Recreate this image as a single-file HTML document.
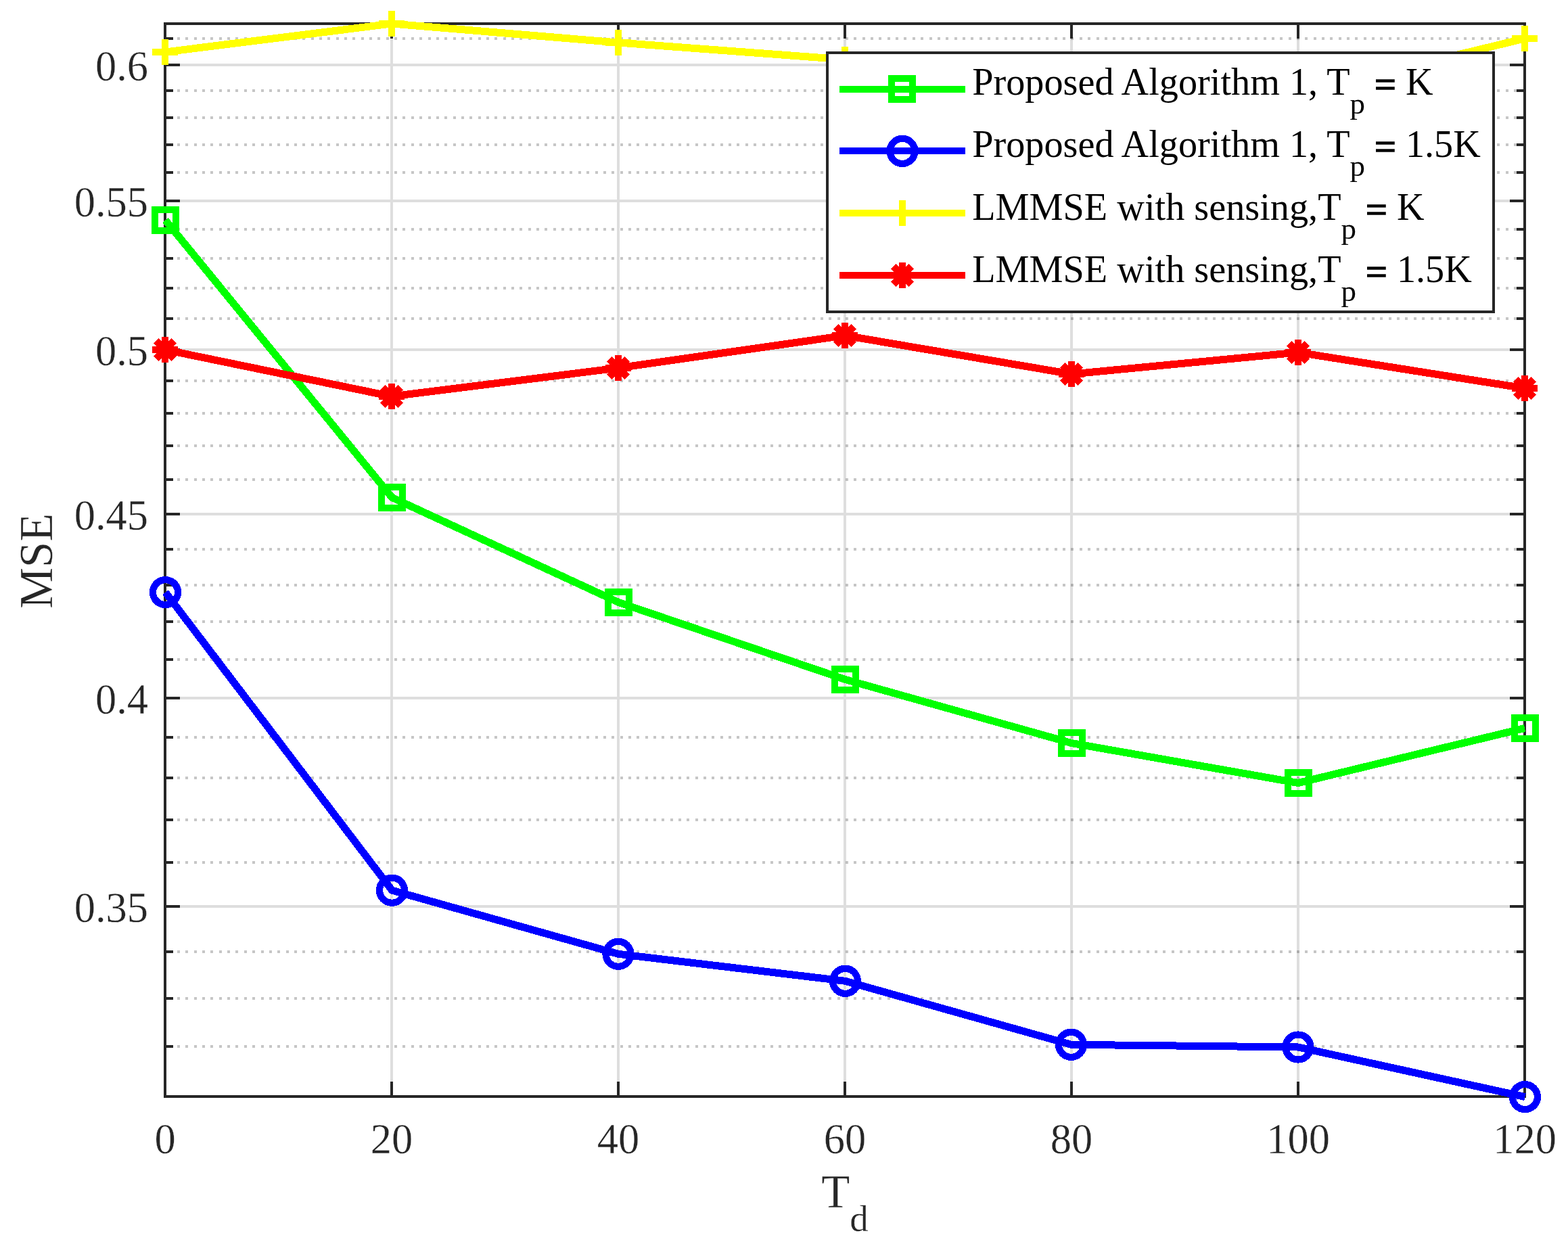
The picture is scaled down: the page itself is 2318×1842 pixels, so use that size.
<!DOCTYPE html>
<html lang="en"><head><meta charset="utf-8"><title>MSE versus T_d</title>
<style>html,body{margin:0;padding:0;background:#fff}body{width:2318px;height:1842px;overflow:hidden}svg{display:block}text{font-family:"Liberation Serif","Times New Roman",Times,serif}</style></head><body>
<svg width="2318" height="1842" viewBox="0 0 2318 1842">
<rect width="2318" height="1842" fill="#fff"/>
<g shape-rendering="crispEdges">
<g fill="#dedede">
<rect x="266" y="1338" width="1966" height="4"/>
<rect x="266" y="1030" width="1966" height="4"/>
<rect x="266" y="758" width="1966" height="4"/>
<rect x="266" y="515" width="1966" height="4"/>
<rect x="266" y="295" width="1966" height="4"/>
<rect x="266" y="94" width="1966" height="4"/>
<rect x="577" y="57" width="4" height="1542"/>
<rect x="912" y="57" width="4" height="1542"/>
<rect x="1247" y="57" width="4" height="1542"/>
<rect x="1582" y="57" width="4" height="1542"/>
<rect x="1917" y="57" width="4" height="1542"/>
</g>
<g stroke="#1b1b1b" stroke-opacity="0.25" stroke-width="4" stroke-dasharray="4 8.35" fill="none">
<path d="M262 1547 H2242"/>
<path d="M262 1476 H2242"/>
<path d="M262 1407 H2242"/>
<path d="M262 1275 H2242"/>
<path d="M262 1212 H2242"/>
<path d="M262 1150 H2242"/>
<path d="M262 1090 H2242"/>
<path d="M262 975 H2242"/>
<path d="M262 919 H2242"/>
<path d="M262 865 H2242"/>
<path d="M262 812 H2242"/>
<path d="M262 709 H2242"/>
<path d="M262 659 H2242"/>
<path d="M262 611 H2242"/>
<path d="M262 563 H2242"/>
<path d="M262 471 H2242"/>
<path d="M262 426 H2242"/>
<path d="M262 382 H2242"/>
<path d="M262 339 H2242"/>
<path d="M262 255 H2242"/>
<path d="M262 214 H2242"/>
<path d="M262 174 H2242"/>
<path d="M262 134 H2242"/>
<path d="M262 57 H2242"/>
</g>
<g fill="#262626">
<rect x="242" y="33" width="2014" height="4"/>
<rect x="242" y="1619" width="2014" height="4"/>
<rect x="242" y="33" width="4" height="1590"/>
<rect x="2252" y="33" width="4" height="1590"/>
<rect x="577" y="37" width="4" height="20"/>
<rect x="577" y="1599" width="4" height="20"/>
<rect x="912" y="37" width="4" height="20"/>
<rect x="912" y="1599" width="4" height="20"/>
<rect x="1247" y="37" width="4" height="20"/>
<rect x="1247" y="1599" width="4" height="20"/>
<rect x="1582" y="37" width="4" height="20"/>
<rect x="1582" y="1599" width="4" height="20"/>
<rect x="1917" y="37" width="4" height="20"/>
<rect x="1917" y="1599" width="4" height="20"/>
<rect x="246" y="1338" width="20" height="4"/>
<rect x="2232" y="1338" width="20" height="4"/>
<rect x="246" y="1030" width="20" height="4"/>
<rect x="2232" y="1030" width="20" height="4"/>
<rect x="246" y="758" width="20" height="4"/>
<rect x="2232" y="758" width="20" height="4"/>
<rect x="246" y="515" width="20" height="4"/>
<rect x="2232" y="515" width="20" height="4"/>
<rect x="246" y="295" width="20" height="4"/>
<rect x="2232" y="295" width="20" height="4"/>
<rect x="246" y="94" width="20" height="4"/>
<rect x="2232" y="94" width="20" height="4"/>
<rect x="246" y="1545" width="10" height="4"/>
<rect x="2242" y="1545" width="10" height="4"/>
<rect x="246" y="1474" width="10" height="4"/>
<rect x="2242" y="1474" width="10" height="4"/>
<rect x="246" y="1405" width="10" height="4"/>
<rect x="2242" y="1405" width="10" height="4"/>
<rect x="246" y="1273" width="10" height="4"/>
<rect x="2242" y="1273" width="10" height="4"/>
<rect x="246" y="1210" width="10" height="4"/>
<rect x="2242" y="1210" width="10" height="4"/>
<rect x="246" y="1148" width="10" height="4"/>
<rect x="2242" y="1148" width="10" height="4"/>
<rect x="246" y="1088" width="10" height="4"/>
<rect x="2242" y="1088" width="10" height="4"/>
<rect x="246" y="973" width="10" height="4"/>
<rect x="2242" y="973" width="10" height="4"/>
<rect x="246" y="917" width="10" height="4"/>
<rect x="2242" y="917" width="10" height="4"/>
<rect x="246" y="863" width="10" height="4"/>
<rect x="2242" y="863" width="10" height="4"/>
<rect x="246" y="810" width="10" height="4"/>
<rect x="2242" y="810" width="10" height="4"/>
<rect x="246" y="707" width="10" height="4"/>
<rect x="2242" y="707" width="10" height="4"/>
<rect x="246" y="657" width="10" height="4"/>
<rect x="2242" y="657" width="10" height="4"/>
<rect x="246" y="609" width="10" height="4"/>
<rect x="2242" y="609" width="10" height="4"/>
<rect x="246" y="561" width="10" height="4"/>
<rect x="2242" y="561" width="10" height="4"/>
<rect x="246" y="469" width="10" height="4"/>
<rect x="2242" y="469" width="10" height="4"/>
<rect x="246" y="424" width="10" height="4"/>
<rect x="2242" y="424" width="10" height="4"/>
<rect x="246" y="380" width="10" height="4"/>
<rect x="2242" y="380" width="10" height="4"/>
<rect x="246" y="337" width="10" height="4"/>
<rect x="2242" y="337" width="10" height="4"/>
<rect x="246" y="253" width="10" height="4"/>
<rect x="2242" y="253" width="10" height="4"/>
<rect x="246" y="212" width="10" height="4"/>
<rect x="2242" y="212" width="10" height="4"/>
<rect x="246" y="172" width="10" height="4"/>
<rect x="2242" y="172" width="10" height="4"/>
<rect x="246" y="132" width="10" height="4"/>
<rect x="2242" y="132" width="10" height="4"/>
<rect x="246" y="55" width="10" height="4"/>
<rect x="2242" y="55" width="10" height="4"/>
</g>
<path d="M244.5 325.5 L579.5 735.5 L914.5 890.5 L1249.5 1004.5 L1584.0 1098.5 L1919.0 1157.5 L2254.0 1076.5" fill="none" stroke="#00ff00" stroke-width="11" stroke-linejoin="round" stroke-linecap="butt"/>
<path fill="#00ff00" fill-rule="evenodd" d="M224 305h41v41h-41z M234 315h21v21h-21z"/>
<path fill="#00ff00" fill-rule="evenodd" d="M559 715h41v41h-41z M569 725h21v21h-21z"/>
<path fill="#00ff00" fill-rule="evenodd" d="M894 870h41v41h-41z M904 880h21v21h-21z"/>
<path fill="#00ff00" fill-rule="evenodd" d="M1229 984h41v41h-41z M1239 994h21v21h-21z"/>
<path fill="#00ff00" fill-rule="evenodd" d="M1564 1078h41v41h-41z M1574 1088h21v21h-21z"/>
<path fill="#00ff00" fill-rule="evenodd" d="M1899 1137h41v41h-41z M1909 1147h21v21h-21z"/>
<path fill="#00ff00" fill-rule="evenodd" d="M2234 1056h41v41h-41z M2244 1066h21v21h-21z"/>
<path d="M244.5 875.6 L579.5 1316.2 L914.0 1410.3 L1249.5 1450.3 L1583.5 1544.3 L1919.0 1548.0 L2254.4 1621.6" fill="none" stroke="#0000ff" stroke-width="11" stroke-linejoin="round" stroke-linecap="butt"/>
<circle cx="244.5" cy="875.6" r="18.5" fill="none" stroke="#0000ff" stroke-width="10.2"/>
<circle cx="579.5" cy="1316.2" r="18.5" fill="none" stroke="#0000ff" stroke-width="10.2"/>
<circle cx="914.0" cy="1410.3" r="18.5" fill="none" stroke="#0000ff" stroke-width="10.2"/>
<circle cx="1249.5" cy="1450.3" r="18.5" fill="none" stroke="#0000ff" stroke-width="10.2"/>
<circle cx="1583.5" cy="1544.3" r="18.5" fill="none" stroke="#0000ff" stroke-width="10.2"/>
<circle cx="1919.0" cy="1548.0" r="18.5" fill="none" stroke="#0000ff" stroke-width="10.2"/>
<circle cx="2254.4" cy="1621.6" r="18.5" fill="none" stroke="#0000ff" stroke-width="10.2"/>
<path d="M244.0 77.0 L579.0 35.0 L914.0 63.0 L1249.0 88.0 L1584.0 112.0 L1919.0 138.0 L2254.0 57.0" fill="none" stroke="#ffff00" stroke-width="11" stroke-linejoin="round" stroke-linecap="butt"/>
<path fill="#ffff00" d="M239 58h10v38h-10z M225 72h38v10h-38z"/>
<path fill="#ffff00" d="M574 16h10v38h-10z M560 30h38v10h-38z"/>
<path fill="#ffff00" d="M909 44h10v38h-10z M895 58h38v10h-38z"/>
<path fill="#ffff00" d="M1244 69h10v38h-10z M1230 83h38v10h-38z"/>
<path fill="#ffff00" d="M1579 93h10v38h-10z M1565 107h38v10h-38z"/>
<path fill="#ffff00" d="M1914 119h10v38h-10z M1900 133h38v10h-38z"/>
<path fill="#ffff00" d="M2249 38h10v38h-10z M2235 52h38v10h-38z"/>
<path d="M244.0 517.0 L579.0 586.0 L914.0 544.0 L1249.0 496.0 L1584.0 553.0 L1919.0 521.0 L2254.0 574.0" fill="none" stroke="#ff0000" stroke-width="11" stroke-linejoin="round" stroke-linecap="butt"/>
<path fill="#ff0000" d="M239 498h10v38h-10z M225 512h38v10h-38z"/>
<path stroke="#ff0000" stroke-width="10" fill="none" d="M230.6 503.6 L257.4 530.4 M230.6 530.4 L257.4 503.6"/>
<path fill="#ff0000" d="M574 567h10v38h-10z M560 581h38v10h-38z"/>
<path stroke="#ff0000" stroke-width="10" fill="none" d="M565.6 572.6 L592.4 599.4 M565.6 599.4 L592.4 572.6"/>
<path fill="#ff0000" d="M909 525h10v38h-10z M895 539h38v10h-38z"/>
<path stroke="#ff0000" stroke-width="10" fill="none" d="M900.6 530.6 L927.4 557.4 M900.6 557.4 L927.4 530.6"/>
<path fill="#ff0000" d="M1244 477h10v38h-10z M1230 491h38v10h-38z"/>
<path stroke="#ff0000" stroke-width="10" fill="none" d="M1235.6 482.6 L1262.4 509.4 M1235.6 509.4 L1262.4 482.6"/>
<path fill="#ff0000" d="M1579 534h10v38h-10z M1565 548h38v10h-38z"/>
<path stroke="#ff0000" stroke-width="10" fill="none" d="M1570.6 539.6 L1597.4 566.4 M1570.6 566.4 L1597.4 539.6"/>
<path fill="#ff0000" d="M1914 502h10v38h-10z M1900 516h38v10h-38z"/>
<path stroke="#ff0000" stroke-width="10" fill="none" d="M1905.6 507.6 L1932.4 534.4 M1905.6 534.4 L1932.4 507.6"/>
<path fill="#ff0000" d="M2249 555h10v38h-10z M2235 569h38v10h-38z"/>
<path stroke="#ff0000" stroke-width="10" fill="none" d="M2240.6 560.6 L2267.4 587.4 M2240.6 587.4 L2267.4 560.6"/>
<rect x="1223" y="78" width="985" height="383" fill="#fff" stroke="#262626" stroke-width="4"/>
<rect x="1241" y="127" width="186" height="10" fill="#00ff00"/>
<rect x="1241" y="218" width="186" height="10" fill="#0000ff"/>
<rect x="1241" y="310" width="186" height="10" fill="#ffff00"/>
<rect x="1241" y="402" width="186" height="10" fill="#ff0000"/>
<path fill="#00ff00" fill-rule="evenodd" d="M1313 111h41v41h-41z M1323 121h21v21h-21z"/>
<circle cx="1334.0" cy="223.4" r="18.5" fill="none" stroke="#0000ff" stroke-width="10.2"/>
<path fill="#ffff00" d="M1329 296h10v38h-10z M1315 310h38v10h-38z"/>
<path fill="#ff0000" d="M1329 388h10v38h-10z M1315 402h38v10h-38z"/>
<path stroke="#ff0000" stroke-width="10" fill="none" d="M1320.6 393.6 L1347.4 420.4 M1320.6 420.4 L1347.4 393.6"/>
</g>
<g fill="#262626" font-size="62.50px" stroke="#fff" stroke-width="0.35">
<text x="219.0" y="1362.8" text-anchor="end">0.35</text>
<text x="219.0" y="1054.8" text-anchor="end">0.4</text>
<text x="219.0" y="782.8" text-anchor="end">0.45</text>
<text x="219.0" y="539.8" text-anchor="end">0.5</text>
<text x="219.0" y="319.8" text-anchor="end">0.55</text>
<text x="219.0" y="118.8" text-anchor="end">0.6</text>
<text x="244" y="1705.2" text-anchor="middle">0</text>
<text x="579" y="1705.2" text-anchor="middle">20</text>
<text x="914" y="1705.2" text-anchor="middle">40</text>
<text x="1249" y="1705.2" text-anchor="middle">60</text>
<text x="1584" y="1705.2" text-anchor="middle">80</text>
<text x="1919" y="1705.2" text-anchor="middle">100</text>
<text x="2254" y="1705.2" text-anchor="middle">120</text>
</g>
<g fill="#262626" font-size="68.75px" stroke="#fff" stroke-width="0.35">
<text x="1214.2" y="1785">T<tspan font-size="55px" dy="34.8">d</tspan></text>
<text transform="translate(77 829.4) rotate(-90)" text-anchor="middle">MSE</text>
</g>
<g fill="#000" font-size="56.25px">
<text x="1437.2" y="140.1" xml:space="preserve">Proposed Algorithm 1, T<tspan font-size="45px" dy="27.9">p</tspan><tspan dy="-27.9"> </tspan><tspan dy="4.2" stroke="#000" stroke-width="1.6">=</tspan><tspan dy="-4.2"> K</tspan></text>
<text x="1437.2" y="232.0" xml:space="preserve">Proposed Algorithm 1, T<tspan font-size="45px" dy="27.9">p</tspan><tspan dy="-27.9"> </tspan><tspan dy="4.2" stroke="#000" stroke-width="1.6">=</tspan><tspan dy="-4.2"> 1.5K</tspan></text>
<text x="1437.2" y="325.1" xml:space="preserve">LMMSE with sensing,T<tspan font-size="45px" dy="27.9">p</tspan><tspan dy="-27.9"> </tspan><tspan dy="4.2" stroke="#000" stroke-width="1.6">=</tspan><tspan dy="-4.2"> K</tspan></text>
<text x="1437.2" y="417.2" xml:space="preserve">LMMSE with sensing,T<tspan font-size="45px" dy="27.9">p</tspan><tspan dy="-27.9"> </tspan><tspan dy="4.2" stroke="#000" stroke-width="1.6">=</tspan><tspan dy="-4.2"> 1.5K</tspan></text>
</g>
</svg></body></html>
